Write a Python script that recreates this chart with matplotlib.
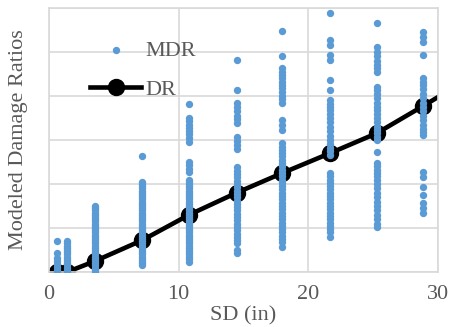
import matplotlib.pyplot as plt

# DR curve (SD in inches vs damage ratio)
dr_sd = [0.64, 1.39, 3.55, 7.2, 10.8, 14.46, 18.0, 21.67, 25.25, 28.87, 32.0]
dr_val = [0.0, 0.0, 0.05, 0.145, 0.26, 0.36, 0.45, 0.54, 0.63, 0.755, 0.866]

# MDR scatter, one list per SD column
mdr_sd_cols = [0.64, 1.39, 3.55, 7.2, 10.8, 14.46, 18.0, 21.67, 25.25, 28.87]
mdr_cols = [
    [0.141, 0.086, 0.064, 0.05, 0.036, 0.023, 0.009, 0.0],
    [0.14, 0.13, 0.12, 0.11, 0.10, 0.09, 0.08, 0.07, 0.06, 0.05, 0.04, 0.03,
     0.02, 0.01, 0.0],
    [0.30, 0.29, 0.28, 0.27, 0.26, 0.25, 0.24, 0.23, 0.22, 0.21, 0.20, 0.19,
     0.18, 0.17, 0.16, 0.15, 0.14, 0.13, 0.12, 0.11, 0.10, 0.09, 0.08, 0.07,
     0.06, 0.05, 0.04, 0.03, 0.02, 0.01, 0.0],
    [0.527, 0.41, 0.40, 0.39, 0.38, 0.37, 0.36, 0.35, 0.34, 0.33, 0.32, 0.31,
     0.30, 0.29, 0.28, 0.27, 0.26, 0.25, 0.24, 0.23, 0.22, 0.21, 0.20, 0.19,
     0.18, 0.17, 0.16, 0.15, 0.14, 0.13, 0.12, 0.11, 0.10, 0.09, 0.08, 0.07,
     0.06, 0.05, 0.04, 0.03],
    [0.764, 0.70, 0.685, 0.67, 0.655, 0.64, 0.625, 0.61, 0.59, 0.50, 0.485,
     0.47, 0.455, 0.42, 0.41, 0.40, 0.39, 0.38, 0.37, 0.36, 0.35, 0.34, 0.33,
     0.32, 0.31, 0.30, 0.29, 0.28, 0.27, 0.26, 0.25, 0.24, 0.23, 0.22, 0.21,
     0.20, 0.19, 0.18, 0.17, 0.16, 0.15, 0.14, 0.13, 0.12, 0.11, 0.10, 0.09,
     0.08, 0.07, 0.06, 0.045],
    [0.964, 0.827, 0.768, 0.75, 0.73, 0.71, 0.695, 0.677, 0.614, 0.595, 0.578,
     0.56, 0.477, 0.46, 0.445, 0.43, 0.415, 0.40, 0.385, 0.37, 0.355, 0.34,
     0.325, 0.31, 0.295, 0.28, 0.265, 0.25, 0.235, 0.22, 0.205, 0.19, 0.175,
     0.16, 0.145, 0.132, 0.10, 0.086],
    [1.095, 0.982, 0.927, 0.91, 0.895, 0.88, 0.865, 0.85, 0.835, 0.82, 0.80,
     0.785, 0.768, 0.69, 0.668, 0.645, 0.586, 0.57, 0.555, 0.54, 0.525, 0.51,
     0.495, 0.48, 0.465, 0.45, 0.435, 0.42, 0.405, 0.39, 0.375, 0.36, 0.345,
     0.33, 0.315, 0.30, 0.285, 0.27, 0.255, 0.24, 0.225, 0.21, 0.195, 0.18,
     0.165, 0.15, 0.135, 0.114],
    [1.177, 1.055, 1.032, 0.986, 0.964, 0.873, 0.827, 0.782, 0.765, 0.75,
     0.735, 0.72, 0.70, 0.68, 0.66, 0.64, 0.62, 0.60, 0.58, 0.565, 0.55, 0.532,
     0.45, 0.435, 0.42, 0.405, 0.39, 0.375, 0.36, 0.345, 0.33, 0.315, 0.30,
     0.285, 0.27, 0.255, 0.24, 0.225, 0.21, 0.195, 0.18, 0.159],
    [1.132, 1.023, 1.0, 0.98, 0.96, 0.94, 0.925, 0.909, 0.84, 0.825, 0.81,
     0.79, 0.77, 0.75, 0.735, 0.72, 0.70, 0.68, 0.66, 0.645, 0.63, 0.615, 0.60,
     0.545, 0.495, 0.48, 0.465, 0.45, 0.435, 0.42, 0.40, 0.38, 0.36, 0.34,
     0.32, 0.30, 0.28, 0.26, 0.24, 0.22, 0.205],
    [1.09, 1.068, 1.045, 0.986, 0.882, 0.865, 0.85, 0.83, 0.81, 0.79, 0.77,
     0.75, 0.73, 0.71, 0.69, 0.67, 0.65, 0.635, 0.623, 0.455, 0.432, 0.386,
     0.35, 0.314, 0.29, 0.268],
]

mdr_sd = []
mdr_val = []
for sd, col in zip(mdr_sd_cols, mdr_cols):
    mdr_sd += [sd] * len(col)
    mdr_val += col

blue = '#5B9BD5'
grey = '#595959'
grid_c = '#D9D9D9'

plt.rcParams['font.family'] = ['Liberation Serif', 'DejaVu Serif']

fig = plt.figure(figsize=(4.54, 3.27), dpi=100)
ax = fig.add_axes([0.108, 0.168, 0.857, 0.808])

dr_line, = ax.plot(dr_sd, dr_val, color='black', linewidth=3.3, marker='o',
                   markersize=11.5, label='DR', zorder=2)
mdr_pts = ax.scatter(mdr_sd, mdr_val, s=28, color=blue, linewidths=0,
                     label='MDR', zorder=3)

ax.set_xlim(0, 30)
ax.set_ylim(0, 1.2)
ax.set_xticks([0, 10, 20, 30])
ax.set_yticks([0, 0.2, 0.4, 0.6, 0.8, 1.0, 1.2])
ax.set_yticklabels([])
ax.grid(True, color=grid_c, linewidth=1.2)
ax.set_axisbelow(True)
ax.tick_params(length=0, labelsize=16, labelcolor=grey, pad=9)
for s in ax.spines.values():
    s.set_color(grid_c)
    s.set_linewidth(1.2)

ax.set_xlabel('SD (in)', fontsize=16, color=grey, labelpad=2)
ax.set_ylabel('Modeled Damage Ratios', fontsize=16, color=grey, labelpad=6)

ax.legend([mdr_pts, dr_line], ['MDR', 'DR'], loc='upper left',
          bbox_to_anchor=(0.077, 0.92), frameon=False, borderpad=0,
          fontsize=16, labelcolor=grey, handlelength=2.3,
          labelspacing=0.85, handletextpad=0.2)

fig.savefig('out.png', dpi=100)
